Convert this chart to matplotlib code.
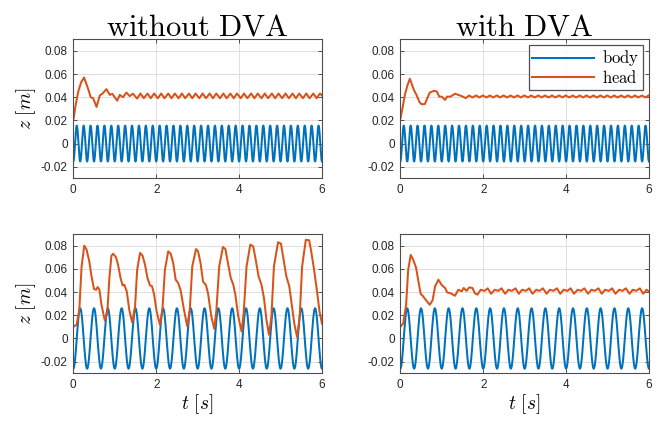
import matplotlib
matplotlib.use('Agg')
import matplotlib.pyplot as plt
import numpy as np

plt.rcParams['mathtext.fontset'] = 'cm'
plt.rcParams['font.family'] = ['Liberation Sans', 'DejaVu Sans']

# ---------------- data ----------------
col_titles = ['without DVA', 'with DVA']
series_names = ['body', 'head']
x_ticks = [0, 2, 4, 6]
y_ticks = [-0.02, 0, 0.02, 0.04, 0.06, 0.08]
y_tick_labels = ['-0.02', '0', '0.02', '0.04', '0.06', '0.08']

# body excitation: amplitude [m], frequency [Hz]
body_amp_top = 0.0155
body_freq_top = 6.0
body_amp_bottom = 0.026
body_freq_bottom = 3.0

# head, top-left (without DVA)
head_tl_t = ([0.0, 0.06, 0.12, 0.19, 0.26, 0.36, 0.42, 0.48, 0.56, 0.64, 0.70, 0.80,
              0.88, 0.94, 1.06, 1.12, 1.20, 1.28, 1.36, 1.44, 1.54]
             + [1.62, 1.70, 1.79, 1.87, 1.95, 2.04, 2.12, 2.20, 2.29, 2.37, 2.45, 2.54,
                2.62, 2.70, 2.79, 2.87, 2.95, 3.04, 3.12, 3.20, 3.29, 3.37, 3.45, 3.54,
                3.62, 3.70, 3.79, 3.87, 3.95, 4.04, 4.12, 4.20, 4.29, 4.37, 4.45, 4.54,
                4.62, 4.70, 4.79, 4.87, 4.95, 5.04, 5.12, 5.20, 5.29, 5.37, 5.45, 5.54,
                5.62, 5.70, 5.79, 5.87, 5.95, 6.0])
head_tl_z = ([0.020, 0.034, 0.045, 0.053, 0.057, 0.047, 0.040, 0.039, 0.0316, 0.0415,
              0.043, 0.047, 0.042, 0.043, 0.037, 0.042, 0.040, 0.044, 0.041, 0.043, 0.0388]
             + [0.0432, 0.0391, 0.0432, 0.0391, 0.0432, 0.0391, 0.0432, 0.0391, 0.0432,
                0.0391, 0.0432, 0.0391, 0.0432, 0.0391, 0.0432, 0.0391, 0.0432, 0.0391,
                0.0432, 0.0391, 0.0432, 0.0391, 0.0432, 0.0391, 0.0432, 0.0391, 0.0432,
                0.0391, 0.0432, 0.0391, 0.0432, 0.0391, 0.0432, 0.0391, 0.0432, 0.0391,
                0.0432, 0.0391, 0.0432, 0.0391, 0.0432, 0.0391, 0.0432, 0.0391, 0.0432,
                0.0391, 0.0432, 0.0391, 0.0432, 0.0391, 0.0432, 0.0391, 0.0432, 0.0415])

# head, top-right (with DVA)
head_tr_t = ([0.0, 0.05, 0.11, 0.17, 0.23, 0.33, 0.39, 0.46, 0.51, 0.59, 0.65, 0.71,
              0.81, 0.88, 0.94, 1.00, 1.08, 1.13, 1.21, 1.32, 1.40, 1.48, 1.58]
             + [1.66, 1.74, 1.83, 1.91, 1.99, 2.08, 2.16, 2.24, 2.33, 2.41, 2.49, 2.58,
                2.66, 2.74, 2.83, 2.91, 2.99, 3.08, 3.16, 3.24, 3.33, 3.41, 3.49, 3.58,
                3.66, 3.74, 3.83, 3.91, 3.99, 4.08, 4.16, 4.24, 4.33, 4.41, 4.49, 4.58,
                4.66, 4.74, 4.83, 4.91, 4.99, 5.08, 5.16, 5.24, 5.33, 5.41, 5.49, 5.58,
                5.66, 5.74, 5.83, 5.91, 5.99])
head_tr_z = ([0.021, 0.030, 0.042, 0.050, 0.056, 0.046, 0.042, 0.036, 0.034, 0.034,
              0.039, 0.044, 0.0455, 0.045, 0.0405, 0.0405, 0.0377, 0.0405, 0.0405, 0.043,
              0.042, 0.041, 0.0392]
             + [0.0415, 0.0398, 0.0415, 0.0398, 0.0415, 0.0398, 0.0415, 0.0398, 0.0415,
                0.0398, 0.0415, 0.0398, 0.0415, 0.0398, 0.0415, 0.0398, 0.0415, 0.0398,
                0.0415, 0.0398, 0.0415, 0.0398, 0.0415, 0.0398, 0.0415, 0.0398, 0.0415,
                0.0398, 0.0415, 0.0398, 0.0415, 0.0398, 0.0415, 0.0398, 0.0415, 0.0398,
                0.0415, 0.0398, 0.0415, 0.0398, 0.0415, 0.0398, 0.0415, 0.0398, 0.0415,
                0.0398, 0.0415, 0.0398, 0.0415, 0.0398, 0.0415, 0.0398, 0.0415])

# head, bottom-left (without DVA)
head_bl_t = [0.0, 0.08, 0.145, 0.20, 0.265, 0.32, 0.385, 0.44, 0.50, 0.55, 0.59, 0.63,
             0.68, 0.76, 0.82, 0.87, 0.92, 0.96, 1.03, 1.08, 1.14, 1.19, 1.23, 1.29,
             1.35, 1.42, 1.49, 1.54, 1.61, 1.67, 1.73, 1.79, 1.85, 1.90, 1.95, 2.01,
             2.09, 2.15, 2.21, 2.29, 2.35, 2.41, 2.47, 2.53, 2.59, 2.67, 2.75, 2.81,
             2.87, 2.96, 3.01, 3.07, 3.13, 3.20, 3.25, 3.33, 3.40, 3.45, 3.52, 3.61,
             3.67, 3.73, 3.80, 3.86, 3.91, 3.98, 4.06, 4.11, 4.18, 4.27, 4.34, 4.40,
             4.47, 4.54, 4.60, 4.66, 4.72, 4.78, 4.84, 4.94, 5.01, 5.06, 5.14, 5.21,
             5.26, 5.33, 5.40, 5.46, 5.52, 5.61, 5.69, 5.74, 5.81, 5.88, 5.94, 6.0]
head_bl_z = [0.010, 0.0118, 0.0247, 0.062, 0.080, 0.0766, 0.0665, 0.0535, 0.0426, 0.042,
             0.0443, 0.042, 0.029, 0.0155, 0.0219, 0.052, 0.0714, 0.073, 0.070, 0.0636,
             0.052, 0.0457, 0.0463, 0.0406, 0.0247, 0.0138, 0.0276, 0.059, 0.0737, 0.0714,
             0.0636, 0.052, 0.0457, 0.045, 0.0377, 0.0233, 0.0118, 0.0247, 0.059, 0.0751,
             0.073, 0.065, 0.0506, 0.0478, 0.0414, 0.0247, 0.0104, 0.0247, 0.062, 0.077,
             0.0751, 0.065, 0.049, 0.046, 0.039, 0.019, 0.0083, 0.0233, 0.062, 0.0788,
             0.077, 0.065, 0.052, 0.0463, 0.0377, 0.019, 0.006, 0.0219, 0.062, 0.0809,
             0.0794, 0.068, 0.0535, 0.0463, 0.0348, 0.016, 0.0032, 0.019, 0.062, 0.0829,
             0.0817, 0.0708, 0.0535, 0.045, 0.032, 0.013, 0.0012, 0.0176, 0.062, 0.085,
             0.0846, 0.075, 0.059, 0.0406, 0.0233, 0.0127]

# head, bottom-right (with DVA)
head_br_t = ([0.0, 0.07, 0.14, 0.19, 0.25, 0.31, 0.38, 0.43, 0.49, 0.55, 0.62, 0.71,
              0.78, 0.84, 0.92, 1.00, 1.08, 1.13, 1.21, 1.32, 1.40, 1.48, 1.53, 1.60,
              1.66, 1.74, 1.80, 1.86]
             + [1.94, 2.03, 2.11, 2.19, 2.28, 2.36, 2.44, 2.53, 2.61, 2.69, 2.78, 2.86,
                2.94, 3.03, 3.11, 3.19, 3.28, 3.36, 3.44, 3.53, 3.61, 3.69, 3.78, 3.86,
                3.94, 4.03, 4.11, 4.19, 4.28, 4.36, 4.44, 4.53, 4.61, 4.69, 4.78, 4.86,
                4.94, 5.03, 5.11, 5.19, 5.28, 5.36, 5.44, 5.53, 5.61, 5.69, 5.78, 5.86,
                5.94, 6.0])
head_br_z = ([0.010, 0.013, 0.029, 0.059, 0.072, 0.068, 0.061, 0.0506, 0.0386, 0.0363,
              0.033, 0.029, 0.033, 0.045, 0.0506, 0.046, 0.0435, 0.0397, 0.039, 0.0368,
              0.042, 0.0406, 0.0435, 0.041, 0.044, 0.0435, 0.039, 0.0377]
             + [0.0420, 0.0410, 0.0432, 0.0385, 0.0420, 0.0410, 0.0432, 0.0385, 0.0420,
                0.0410, 0.0432, 0.0385, 0.0420, 0.0410, 0.0432, 0.0385, 0.0420, 0.0410,
                0.0432, 0.0385, 0.0420, 0.0410, 0.0432, 0.0385, 0.0420, 0.0410, 0.0432,
                0.0385, 0.0420, 0.0410, 0.0432, 0.0385, 0.0420, 0.0410, 0.0432, 0.0385,
                0.0420, 0.0410, 0.0432, 0.0385, 0.0420, 0.0410, 0.0432, 0.0385, 0.0420,
                0.0410, 0.0432, 0.0385, 0.0420, 0.0405])

# ---------------- figure ----------------
W, H = 665, 421
fig = plt.figure(figsize=(W / 100, H / 100), dpi=100)


def add_ax(l, t, r, b):
    return fig.add_axes([l / W, 1 - b / H, (r - l) / W, (b - t) / H])


c_body = '#0072BD'
c_head = '#D95319'
edge = '#4d4d4d'

boxes = {
    'tl': (73.3, 39.3, 322, 178.3),
    'tr': (400.3, 39.3, 649, 178.3),
    'bl': (73.3, 234, 322, 373.3),
    'br': (400.3, 234, 649, 373.3),
}

t_fine = np.linspace(0, 6, 3001)
panels = [
    ('tl', body_amp_top, body_freq_top, head_tl_t, head_tl_z),
    ('tr', body_amp_top, body_freq_top, head_tr_t, head_tr_z),
    ('bl', body_amp_bottom, body_freq_bottom, head_bl_t, head_bl_z),
    ('br', body_amp_bottom, body_freq_bottom, head_br_t, head_br_z),
]

axes = {}
for key, amp, freq, ht, hz in panels:
    ax = add_ax(*boxes[key])
    axes[key] = ax
    body = -amp * np.cos(2 * np.pi * freq * t_fine)
    ax.plot(t_fine, body, color=c_body, lw=1.45, label=r'$\mathrm{' + series_names[0] + '}$')
    ax.plot(ht, hz, color=c_head, lw=1.45, label=r'$\mathrm{' + series_names[1] + '}$',
            solid_joinstyle='round')
    ax.set_xlim(0, 6)
    ax.set_ylim(-0.03, 0.09)
    ax.set_xticks(x_ticks)
    ax.set_xticklabels([str(v) for v in x_ticks])
    ax.set_yticks(y_ticks)
    ax.set_yticklabels(y_tick_labels)
    ax.grid(True, color='#dedede', lw=0.7)
    ax.set_axisbelow(True)
    ax.tick_params(direction='in', length=3, width=0.7, color=edge, labelsize=8.5,
                   labelcolor='#262626', top=True, right=True, pad=4)
    for s in ax.spines.values():
        s.set_color(edge)
        s.set_linewidth(0.8)

axes['tl'].set_title(r'$\mathrm{without\ DVA}$', fontsize=22, pad=3)
axes['tr'].set_title(r'$\mathrm{with\ DVA}$', fontsize=22, pad=3)
for k in ('tl', 'bl'):
    axes[k].set_ylabel(r'$z\ [m]$', fontsize=14, labelpad=2)
for k in ('bl', 'br'):
    axes[k].set_xlabel(r'$t\ [s]$', fontsize=14, labelpad=1)

leg = axes['tr'].legend(loc='upper right', fontsize=12, handlelength=3.7,
                        borderaxespad=0.35, frameon=True, fancybox=False,
                        handletextpad=0.5, borderpad=0.2, labelspacing=0.05)
leg.get_frame().set_edgecolor('#262626')
leg.get_frame().set_linewidth(0.9)

fig.savefig('out.png', dpi=100)
